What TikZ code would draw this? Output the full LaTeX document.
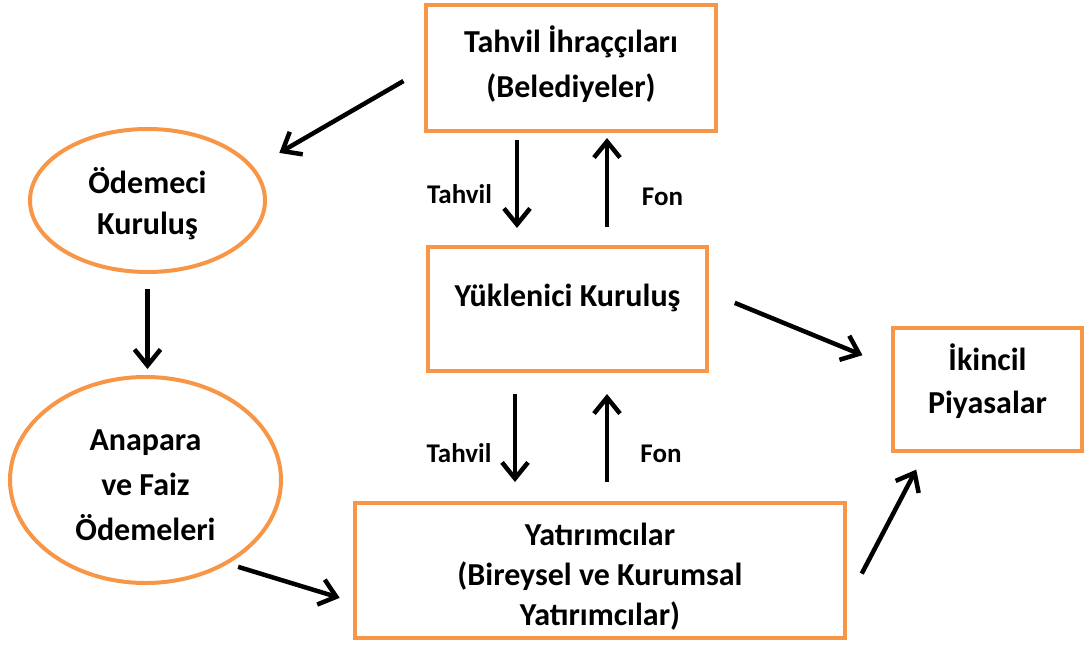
\documentclass[tikz,border=0pt]{standalone}
\usepackage{fontspec}
\setmainfont{Carlito}
\usetikzlibrary{arrows.meta,positioning,calc,shapes.geometric}
\definecolor{frameorange}{HTML}{F79646}

\begin{document}
\begin{tikzpicture}[
  x=1pt, y=-1pt,
  every node/.style={font=\fontsize{32}{42}\selectfont\bfseries, inner sep=0pt, outer sep=0pt},
  party/.style={rectangle, draw=frameorange, line width=4pt, align=center, text depth=8pt},
  payer/.style={ellipse, draw=frameorange, line width=4pt, align=center, text depth=8pt},
  flowlabel/.style={anchor=base, font=\fontsize{27}{30}\selectfont\bfseries},
  arrow/.style={-{Straight Barb[length=16pt,width=26pt]}, line width=4.5pt, black},
]
\useasboundingbox (0,0) rectangle (1084,646);

% Main parties
\node[party, minimum width=290pt, minimum height=126pt, text height=66pt,
  font=\fontsize{32}{45}\selectfont\bfseries] (ihrac) at (571,68)
  {Tahvil İhraççıları\\(Belediyeler)};
\node[party, minimum width=279pt, minimum height=124pt, text height=20pt, text depth=26pt] (yuk) at (567.5,309)
  {Yüklenici Kuruluş};
\node[party, minimum width=490pt, minimum height=135pt, text height=117pt,
  font=\fontsize{32}{40}\selectfont\bfseries] (yatirim) at (600,570.5)
  {Yatırımcılar\\(Bireysel ve Kurumsal\\Yatırımcılar)};
\node[party, minimum width=189pt, minimum height=123pt, text height=55pt,
  font=\fontsize{32}{43}\selectfont\bfseries] (ikincil) at (987.5,389.5)
  {İkincil\\Piyasalar};

% Payment side
\node[payer, minimum width=235pt, minimum height=143pt, text height=75pt,
  font=\fontsize{32}{41}\selectfont\bfseries] (odemeci) at (147.5,200.5)
  {Ödemeci\\Kuruluş};
\node[payer, minimum width=271pt, minimum height=206pt, text height=128pt,
  font=\fontsize{32}{45}\selectfont\bfseries] (anapara) at (145.5,480)
  {Anapara\\ve Faiz\\Ödemeleri};

% Flow labels
\node[flowlabel] (tahvilA) at (459.5,203) {Tahvil};
\node[flowlabel] (fonA) at (662.5,205) {Fon};
\node[flowlabel] (tahvilB) at (459,462) {Tahvil};
\node[flowlabel] (fonB) at (661,462) {Fon};

% Arrows
\draw[arrow, shorten <=26pt, shorten >=31pt] (ihrac.west) -- (odemeci.17);
\draw[arrow, shorten <=9pt, shorten >=19pt] ([xshift=-54pt]ihrac.south) -- ([xshift=-54pt]ihrac.south |- yuk.north);
\draw[arrow, shorten <=20pt, shorten >=7pt] ([xshift=39.5pt]yuk.north) -- ([xshift=39.5pt]yuk.north |- ihrac.south);
\draw[arrow, shorten <=17pt, shorten >=8pt] (odemeci.south) -- (odemeci.south |- anapara.north);
\draw[arrow, shorten <=23pt, shorten >=21pt] ([xshift=-52.5pt]yuk.south) -- ([xshift=-52.5pt]yuk.south |- yatirim.north);
\draw[arrow, shorten <=21pt, shorten >=23pt] ([xshift=39.5pt]yuk.south |- yatirim.north) -- ([xshift=39.5pt]yuk.south);
\draw[arrow, shorten <=30pt, shorten >=33pt] ([yshift=17.5pt]yuk.east) -- ([yshift=21.8pt]ikincil.west);
\draw[arrow, shorten <=13pt, shorten >=16pt] (anapara.-46) -- ([yshift=-32pt]yatirim.west);
\draw[arrow, shorten <=36pt, shorten >=21pt] ([yshift=-35pt]yatirim.east) -- ([xshift=-61.5pt]ikincil.south);
\end{tikzpicture}
\end{document}
